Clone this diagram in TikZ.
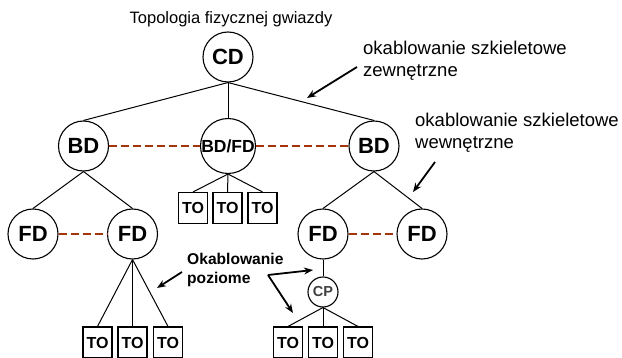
\documentclass[tikz,border=0pt]{standalone}
\usepackage{fontspec}
\setmainfont{Liberation Sans}
\usetikzlibrary{arrows.meta}
\definecolor{dashbrown}{RGB}{165,52,12}
\begin{document}
\begin{tikzpicture}[x=1pt,y=-1pt,
  hub/.style={circle,draw,line width=1.1pt,minimum size=50pt,inner sep=0pt,font=\fontsize{22}{22}\selectfont\bfseries},
  small/.style={circle,draw,line width=1.1pt,minimum size=30pt,inner sep=0pt,font=\fontsize{14.5}{14.5}\selectfont\bfseries,text=black!75},
  outlet/.style={draw,line width=1.1pt,minimum width=29pt,minimum height=31pt,inner sep=0pt,font=\fontsize{16}{16}\selectfont\bfseries},
  link/.style={line width=1pt},
  backbone/.style={dashbrown,line width=2.5pt,dash pattern=on 8pt off 4pt},
  pointer/.style={line width=1.8pt,-{Stealth[length=9pt,width=7pt]}},
  lbl/.style={font=\fontsize{18.5}{21.5}\selectfont,align=left,inner sep=0pt,anchor=north west}
]
\useasboundingbox (0,0) rectangle (622,358);

% nodes
\node[hub] (cd) at (228,57) {CD};
\node[hub] (bdl) at (83.5,146) {BD};
\node[hub,font=\fontsize{17.5}{17.5}\selectfont\bfseries] (bdfd) at (228,146) {BD/FD};
\node[hub] (bdr) at (374,146) {BD};
\node[hub] (fd1) at (33,234) {FD};
\node[hub] (fd2) at (132.5,234) {FD};
\node[hub] (fd3) at (323,234) {FD};
\node[hub] (fd4) at (422,234) {FD};
\node[small] (cp) at (323,292) {CP};

\node[outlet] (to1) at (193,208) {TO};
\node[outlet] (to2) at (227.5,208) {TO};
\node[outlet] (to3) at (262.5,208) {TO};
\node[outlet] (to4) at (97.5,342.5) {TO};
\node[outlet] (to5) at (132.5,342.5) {TO};
\node[outlet] (to6) at (168,342.5) {TO};
\node[outlet] (to7) at (288,342.5) {TO};
\node[outlet] (to8) at (323,342.5) {TO};
\node[outlet] (to9) at (358,342.5) {TO};

% connectors
\draw[link] (cd.south) -- (bdl.north);
\draw[link] (cd.south) -- (bdfd.north);
\draw[link] (cd.south) -- (bdr.north);
\draw[link] (bdl.south) -- (fd1.north);
\draw[link] (bdl.south) -- (fd2.north);
\draw[link] (bdr.south) -- (fd3.north);
\draw[link] (bdr.south) -- (fd4.north);
\draw[link] (bdfd.south) -- (to1.north);
\draw[link] (bdfd.south) -- (to2.north);
\draw[link] (bdfd.south) -- (to3.north);
\draw[link] (fd2.south) -- (to4.north);
\draw[link] (fd2.south) -- (to5.north);
\draw[link] (fd2.south) -- (to6.north);
\draw[link] (fd3.south) -- (cp.north);
\draw[link] (cp.south) -- (to7.north);
\draw[link] (cp.south) -- (to8.north);
\draw[link] (cp.south) -- (to9.north);

\draw[backbone] (bdl.east) -- (bdfd.west);
\draw[backbone] (bdfd.east) -- (bdr.west);
\draw[backbone] (fd1.east) -- (fd2.west);
\draw[backbone] (fd3.east) -- (fd4.west);

% texts
\node[font=\fontsize{16.5}{16.5}\selectfont,anchor=base] (title) at (231,24) {Topologia fizycznej gwiazdy};
\node[lbl] (ext) at (363,41) {okablowanie szkieletowe\\zewnętrzne};
\node[lbl] (int) at (415,113) {okablowanie szkieletowe\\wewnętrzne};
\node[lbl,font=\fontsize{15.6}{19}\selectfont\bfseries] (hor) at (187,253) {Okablowanie\\poziome};

% pointers
\coordinate (a1s) at (357,67);
\coordinate (a1e) at (307,98);
\coordinate (a2s) at (435,162);
\coordinate (a2e) at (413,192);
\coordinate (a3s) at (182,272);
\coordinate (a3e) at (157,288);
\coordinate (a4s) at (268,275);
\coordinate (a4e) at (313,270);
\coordinate (a5e) at (293,313);
\draw[pointer] (a1s) -- (a1e);
\draw[pointer] (a2s) -- (a2e);
\draw[pointer] (a3s) -- (a3e);
\draw[pointer] (a4s) -- (a4e);
\draw[pointer] (a4s) -- (a5e);
\end{tikzpicture}
\end{document}
